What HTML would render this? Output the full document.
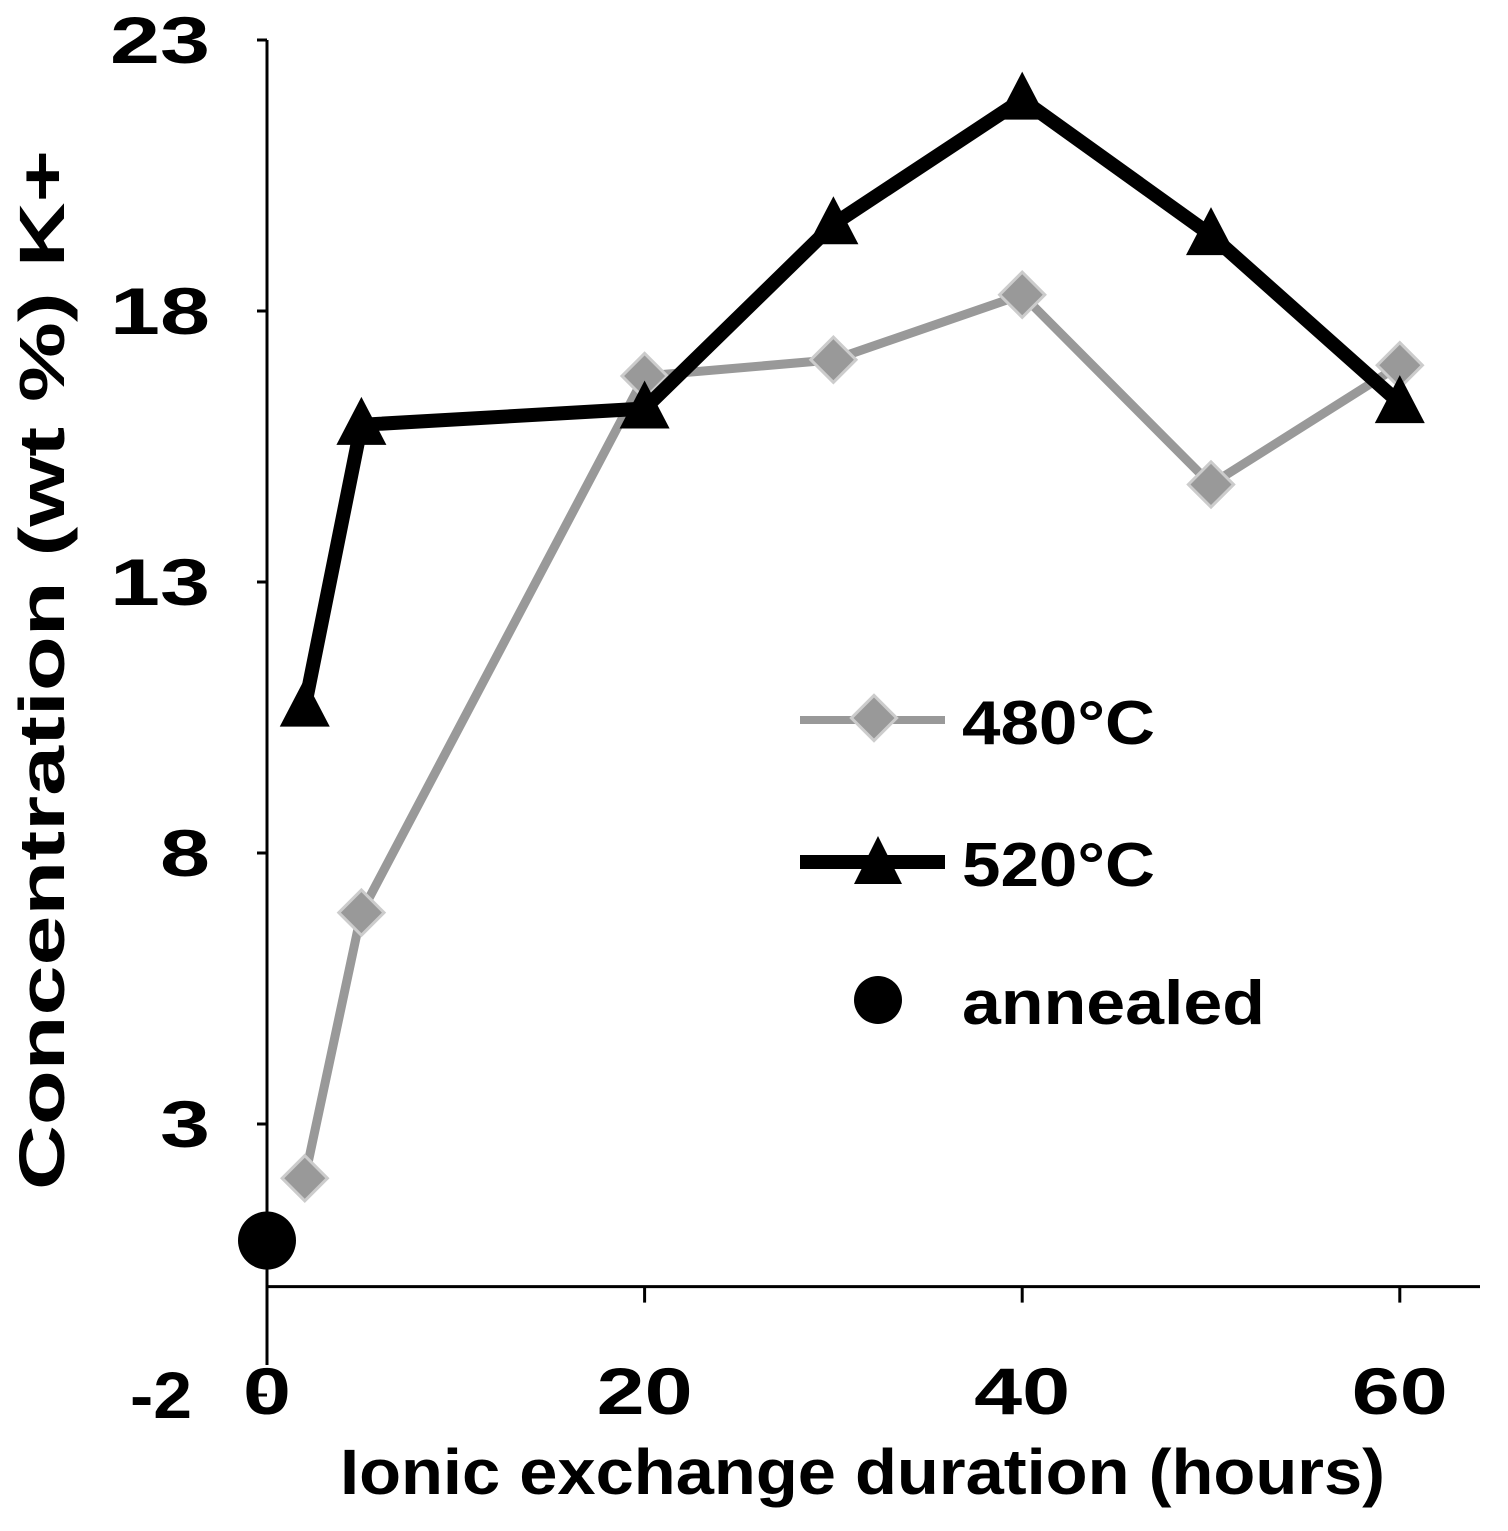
<!DOCTYPE html>
<html><head><meta charset="utf-8"><style>
html,body{margin:0;padding:0;background:#fff;}
svg{display:block;font-family:"Liberation Sans",sans-serif;font-weight:bold;}
</style></head><body>
<svg id="chart" width="1508" height="1531" viewBox="0 0 1508 1531">
<g id="axes"></g><g id="series"></g>
<g>
 <line x1="800" y1="720" x2="945" y2="720" stroke="#999" stroke-width="8"/>
 <rect x="858" y="702" width="32" height="32" transform="rotate(45 874 718)" fill="#999" stroke="#ccc" stroke-width="3"/>
 <text x="962" y="744" font-size="62" textLength="193" lengthAdjust="spacingAndGlyphs">480°C</text>
 <line x1="800" y1="862" x2="945" y2="862" stroke="#000" stroke-width="14"/>
 <polygon points="878,836 902,884 854,884" fill="#000"/>
 <text x="962" y="886" font-size="62" textLength="193" lengthAdjust="spacingAndGlyphs">520°C</text>
 <circle cx="878" cy="1000" r="24" fill="#000"/>
 <text x="962" y="1024" font-size="62" textLength="303" lengthAdjust="spacingAndGlyphs">annealed</text>
</g>
<text x="340" y="1494" font-size="64" textLength="1045" lengthAdjust="spacingAndGlyphs">Ionic exchange duration (hours)</text>
<text transform="translate(64,1190) rotate(-90)" font-size="64" textLength="1040" lengthAdjust="spacingAndGlyphs">Concentration (wt %) K+</text>
</svg>
<script>
const xTicks=[0,20,40,60];
const yTicks=[-2,3,8,13,18,23];
const xs480=[2,5,20,30,40,50,60];
const ys480=[2.0,6.9,16.8,17.1,18.3,14.8,17.0];
const xs520=[2,5,20,30,40,50,60];
const ys520=[10.7,15.9,16.2,19.6,21.9,19.4,16.3];
const annealedX=[0];
const annealedY=[0.85];
const NS="http://www.w3.org/2000/svg";
const X=v=>267+v*18.88;
const Y=v=>40+(23-v)*54.2;
function mk(tag,attrs,parent){const e=document.createElementNS(NS,tag);for(const k in attrs)e.setAttribute(k,attrs[k]);parent.appendChild(e);return e;}
const ax=document.getElementById('axes'), se=document.getElementById('series');
let l=mk('line',{x1:X(0),y1:Y(23),x2:X(0),y2:1365,stroke:'#000','stroke-width':3},ax);


l=mk('line',{x1:X(0),y1:Y(0),x2:1480,y2:Y(0),stroke:'#000','stroke-width':3},ax);


yTicks.forEach(v=>{
 const t=mk('line',{x1:X(0)-10,y1:Y(v),x2:X(0),y2:Y(v),stroke:'#000','stroke-width':3},ax);
 
 
 const s=String(v);
 const w=(v===-2)?62:s.length*50;
 const right=(v===-2?192:210);
 const tx=mk('text',{x:right-w,y:Y(v)+23,'font-size':66,textLength:w,lengthAdjust:'spacingAndGlyphs'},ax);
 tx.textContent=s;
 
 
});
xTicks.forEach(v=>{
 const s=String(v);
 const t=mk('line',{x1:X(v),y1:Y(0),x2:X(v),y2:Y(0)+16,stroke:'#000','stroke-width':3},ax);
 
 
 const w=s.length*48;
 const tx=mk('text',{x:X(v)-w/2,y:1414,'font-size':66,textLength:w,lengthAdjust:'spacingAndGlyphs'},ax);
 tx.textContent=s;
 
 
});
const p480=mk('polyline',{points:xs480.map((x,i)=>X(x)+','+Y(ys480[i])).join(' '),fill:'none',stroke:'#999','stroke-width':9},se);


xs480.forEach((x,i)=>{
 const r=mk('rect',{x:X(x)-16,y:Y(ys480[i])-16,width:32,height:32,transform:`rotate(45 ${X(x)} ${Y(ys480[i])})`,fill:'#999',stroke:'#ccc','stroke-width':3},se);
 
 
});
const p520=mk('polyline',{points:xs520.map((x,i)=>X(x)+','+Y(ys520[i])).join(' '),fill:'none',stroke:'#000','stroke-width':14,'stroke-linejoin':'miter'},se);


xs520.forEach((x,i)=>{
 const cx=X(x),cy=Y(ys520[i]);
 const t=mk('polygon',{points:`${cx},${cy-28} ${cx+25},${cy+20} ${cx-25},${cy+20}`,fill:'#000'},se);
 
 
});
annealedX.forEach((x,i)=>{
 const c=mk('circle',{cx:X(x),cy:Y(annealedY[i]),r:29,fill:'#000'},se);
 
 
});
</script>
</body></html>
